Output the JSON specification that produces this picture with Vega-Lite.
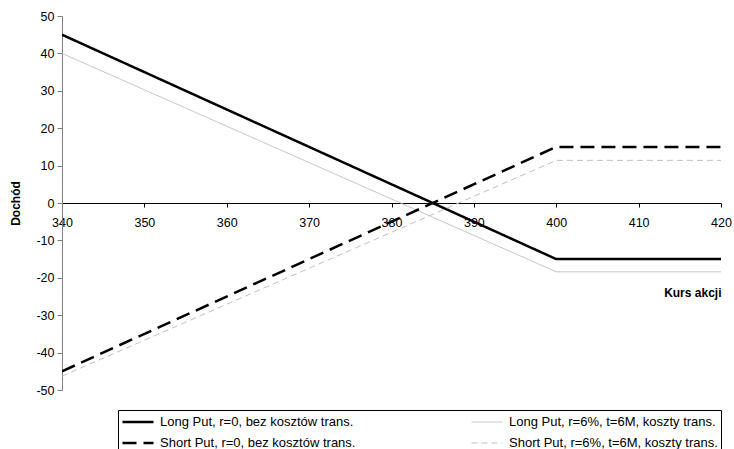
{
  "$schema": "https://vega.github.io/schema/vega-lite/v6.json",
  "width": 659,
  "height": 374,
  "autosize": {"type": "none"},
  "padding": {"left": 62, "top": 16, "right": 13, "bottom": 59},
  "background": "white",
  "config": {"font": "Liberation Sans", "view": {"stroke": null}},
  "data": {
    "values": [
      {"seria": "Long Put, r=0, bez kosztów trans.", "kurs": 340, "dochod": 45},
      {"seria": "Long Put, r=0, bez kosztów trans.", "kurs": 400, "dochod": -15},
      {"seria": "Long Put, r=0, bez kosztów trans.", "kurs": 420, "dochod": -15},
      {"seria": "Long Put, r=6%, t=6M, koszty trans.", "kurs": 340, "dochod": 40},
      {"seria": "Long Put, r=6%, t=6M, koszty trans.", "kurs": 400, "dochod": -18.4},
      {"seria": "Long Put, r=6%, t=6M, koszty trans.", "kurs": 420, "dochod": -18.4},
      {"seria": "Short Put, r=0, bez kosztów trans.", "kurs": 340, "dochod": -45},
      {"seria": "Short Put, r=0, bez kosztów trans.", "kurs": 400, "dochod": 15},
      {"seria": "Short Put, r=0, bez kosztów trans.", "kurs": 420, "dochod": 15},
      {"seria": "Short Put, r=6%, t=6M, koszty trans.", "kurs": 340, "dochod": -46.3},
      {"seria": "Short Put, r=6%, t=6M, koszty trans.", "kurs": 400, "dochod": 11.4},
      {"seria": "Short Put, r=6%, t=6M, koszty trans.", "kurs": 420, "dochod": 11.4}
    ]
  },
  "mark": {"type": "line", "clip": true},
  "encoding": {
    "x": {
      "field": "kurs", "type": "quantitative",
      "scale": {"domain": [340, 420], "nice": false, "zero": false},
      "axis": {
        "orient": "bottom", "offset": -187, "grid": false,
        "values": [340, 350, 360, 370, 380, 390, 400, 410, 420],
        "tickSize": 4, "tickColor": "#000", "domainColor": "#000",
        "labelFontSize": 12.5, "labelColor": "#000", "labelPadding": 9, "labelFlush": false,
        "title": "Kurs akcji", "titleFontWeight": "bold", "titleFontSize": 12, "titleColor": "#000",
        "titleAnchor": "end", "titleAlign": "right", "titleX": 659, "titleY": 89, "titleBaseline": "middle"
      }
    },
    "y": {
      "field": "dochod", "type": "quantitative",
      "scale": {"domain": [-50, 50], "nice": false},
      "axis": {
        "grid": false,
        "values": [-50, -40, -30, -20, -10, 0, 10, 20, 30, 40, 50],
        "labelExpr": "replace(datum.label, '\u2212', '-')",
        "tickSize": 5, "tickColor": "#808080", "domainColor": "#808080",
        "labelFontSize": 12.5, "labelColor": "#000", "labelPadding": 3,
        "title": "Dochód", "titleFontWeight": "bold", "titleFontSize": 12, "titleColor": "#000",
        "titleX": -47, "titleY": 187, "titleAngle": -90, "titleAlign": "center", "titleBaseline": "middle"
      }
    },
    "color": {
      "field": "seria", "type": "nominal",
      "scale": {
        "domain": ["Long Put, r=0, bez kosztów trans.", "Short Put, r=0, bez kosztów trans.", "Long Put, r=6%, t=6M, koszty trans.", "Short Put, r=6%, t=6M, koszty trans."],
        "range": ["#000000", "#000000", "#c0c0c0", "#c0c0c0"]
      },
      "legend": {
        "title": null, "orient": "none", "legendX": 56, "legendY": 394, "columns": 2,
        "strokeColor": "#000", "padding": 3, "symbolType": "M-1,0L1,0", "symbolSize": 961,
        "clipHeight": 18,
        "labelFontSize": 13, "labelColor": "#000", "labelOffset": 5, "rowPadding": 3, "columnPadding": 114,
        "labelLimit": 300
      }
    },
    "strokeDash": {
      "field": "seria", "type": "nominal",
      "scale": {
        "domain": ["Long Put, r=0, bez kosztów trans.", "Short Put, r=0, bez kosztów trans.", "Long Put, r=6%, t=6M, koszty trans.", "Short Put, r=6%, t=6M, koszty trans."],
        "range": [[1, 0], [14, 7], [1, 0], [6, 4]]
      },
      "legend": {"title": null}
    },
    "strokeWidth": {
      "field": "seria", "type": "nominal",
      "scale": {
        "type": "ordinal",
        "domain": ["Long Put, r=0, bez kosztów trans.", "Short Put, r=0, bez kosztów trans.", "Long Put, r=6%, t=6M, koszty trans.", "Short Put, r=6%, t=6M, koszty trans."],
        "range": [2.5, 2.5, 1, 1]
      },
      "legend": {"title": null}
    }
  }
}
